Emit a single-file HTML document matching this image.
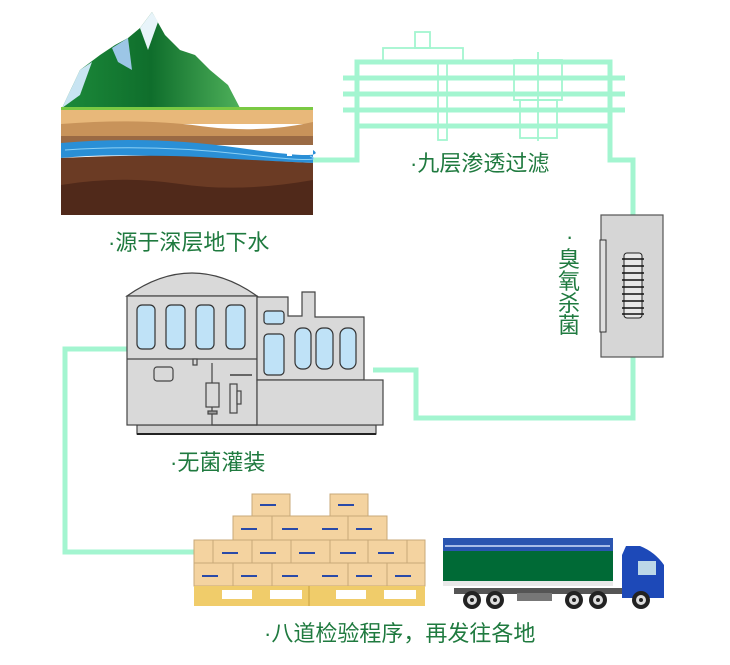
<!DOCTYPE html>
<html><head><meta charset="utf-8"><style>
html,body{margin:0;padding:0;background:#fff;}
svg{display:block}
text{font-family:"Liberation Sans","Noto Sans CJK SC",sans-serif;fill:#1f7a3f;font-size:22px}
</style></head><body>
<svg width="730" height="665" viewBox="0 0 730 665" xmlns="http://www.w3.org/2000/svg">
<defs>
<linearGradient id="mt" x1="0" y1="0" x2="1" y2="0"><stop offset="0" stop-color="#1c8a3a"/><stop offset="0.5" stop-color="#0f6e2c"/><stop offset="1" stop-color="#4eb05a"/></linearGradient>
</defs>
<g fill="none" stroke="#a3f5d0" stroke-width="5">
<polyline points="313,160 357,160 357,62 610,62 610,160 633,160 633,215"/>
<polyline points="633,357 633,418 416,418 416,370 373,370"/>
<polyline points="127,349 65,349 65,552 194,552"/>
<line x1="343" y1="78" x2="625" y2="78"/>
<line x1="343" y1="94" x2="625" y2="94"/>
<line x1="343" y1="110" x2="625" y2="110"/>
<line x1="357" y1="126" x2="610" y2="126"/>
</g>
<g fill="none" stroke="#a3f5d0" stroke-width="1.8">
<rect x="383" y="48" width="80" height="14"/>
<rect x="415" y="32" width="15" height="16"/>
<rect x="438" y="62" width="9" height="78"/>
<rect x="514" y="60" width="48" height="40"/>
<rect x="520" y="100" width="37" height="38"/>
<line x1="538" y1="52" x2="538" y2="141"/>
</g>
<!-- mountain -->
<polygon points="62,108 80,70 100,55 115,45 128,38 140,28 152,12 165,35 180,50 195,55 210,70 228,85 240,108" fill="url(#mt)"/>
<polygon points="62,108 80,70 92,62 80,95" fill="#c8e4f2"/>
<polygon points="140,28 152,12 158,22 148,50" fill="#e8f4fa"/>
<polygon points="112,48 128,38 132,70 118,62" fill="#9cc6e6"/>
<!-- ground -->
<rect x="61" y="107" width="252" height="3" fill="#7ac943"/>
<rect x="61" y="110" width="252" height="14" fill="#e8b87a"/>
<path d="M61,124 Q140,118 200,126 T313,122 L313,138 L61,138Z" fill="#c8935a"/>
<rect x="61" y="136" width="252" height="9" fill="#9a6a44"/>
<path d="M61,143 Q150,135 240,148 T313,150 L313,163 Q200,158 150,156 T61,158Z" fill="#2a8fd6"/>
<path d="M65,150 Q150,144 240,154 T310,156" stroke="#8cd0f4" fill="none" stroke-width="1"/>
<rect x="287" y="152" width="5" height="4" fill="#fff"/>
<path d="M61,158 Q150,154 200,157 T313,163 L313,215 L61,215Z" fill="#6b3b24"/>
<path d="M61,185 Q120,175 180,184 T313,180 L313,215 L61,215Z" fill="#50291a"/>
<text x="108" y="250">·源于深层地下水</text>
<text x="410" y="171">·九层渗透过滤</text>
<!-- sterilizer -->
<rect x="601" y="215" width="62" height="142" fill="#d6d6d6" stroke="#555" stroke-width="1.2"/>
<rect x="600" y="240" width="6" height="92" fill="#e0e0e0" stroke="#333" stroke-width="1"/>
<rect x="624" y="253" width="18" height="65" rx="3" fill="#e8e8e8" stroke="#222"/>
<g stroke="#111" stroke-width="1.5">
<line x1="622" y1="259" x2="644" y2="259"/><line x1="622" y1="266" x2="644" y2="266"/><line x1="622" y1="273" x2="644" y2="273"/><line x1="622" y1="280" x2="644" y2="280"/><line x1="622" y1="287" x2="644" y2="287"/><line x1="622" y1="294" x2="644" y2="294"/><line x1="622" y1="301" x2="644" y2="301"/><line x1="622" y1="308" x2="644" y2="308"/><line x1="622" y1="314" x2="644" y2="314"/></g>
<text x="566" y="244" font-size="12">·</text>
<text x="558" y="267">臭</text><text x="558" y="289">氧</text><text x="558" y="311">杀</text><text x="558" y="333">菌</text>
<!-- machine -->
<g stroke="#444" stroke-width="1.2">
<rect x="137" y="425" width="239" height="9" fill="#d0d0d0"/>
<line x1="137" y1="434" x2="376" y2="434" stroke="#222" stroke-width="2"/>
<path d="M127,296 Q192,250 257,296 Z" fill="#d9d9d9"/>
<rect x="127" y="296" width="130" height="129" fill="#d9d9d9"/>
<path d="M257,297 L288,297 L288,316 L302,316 L302,292 L315,292 L315,317 L364,317 L364,380 L257,380Z" fill="#d9d9d9"/>
<rect x="257" y="380" width="126" height="45" fill="#d9d9d9"/>
<line x1="127" y1="359" x2="257" y2="359"/>
<g fill="#bfe2f7" stroke="#333">
<rect x="137" y="305" width="18" height="44" rx="5"/><rect x="166" y="305" width="19" height="44" rx="5"/>
<rect x="196" y="305" width="18" height="44" rx="5"/><rect x="226" y="305" width="19" height="44" rx="5"/>
<rect x="264" y="311" width="20" height="13" rx="3"/><rect x="264" y="334" width="20" height="41" rx="4"/>
<rect x="295" y="328" width="16" height="41" rx="7"/><rect x="316" y="328" width="17" height="41" rx="7"/><rect x="340" y="328" width="16" height="41" rx="7"/>
</g>
<rect x="154" y="367" width="19" height="14" rx="3" fill="#d9d9d9"/>
<rect x="193" y="359" width="4" height="6" fill="#d9d9d9"/>
<polyline points="212,363 212,425 257,425" fill="none"/>
<rect x="206" y="383" width="13" height="24" fill="#d9d9d9"/>
<rect x="208" y="411" width="9" height="3" fill="#999"/>
<rect x="230" y="384" width="7" height="29" fill="#d9d9d9"/><rect x="237" y="391" width="4" height="13" fill="#d9d9d9"/>
<line x1="230" y1="375" x2="252" y2="375" stroke="#666" stroke-width="2"/>
</g>
<text x="170" y="470">·无菌灌装</text>
<!-- boxes -->
<g fill="#f4d3a0" stroke="#c8a878" stroke-width="1">
<rect x="252" y="494" width="38" height="22"/><rect x="330" y="494" width="38" height="22"/>
<rect x="233" y="516" width="39" height="24"/><rect x="272" y="516" width="76" height="24"/><rect x="348" y="516" width="39" height="24"/>
<rect x="194" y="540" width="19" height="23"/><rect x="213" y="540" width="39" height="23"/><rect x="252" y="540" width="39" height="23"/><rect x="291" y="540" width="39" height="23"/><rect x="330" y="540" width="38" height="23"/><rect x="368" y="540" width="39" height="23"/><rect x="407" y="540" width="18" height="23"/>
<rect x="194" y="563" width="39" height="23"/><rect x="233" y="563" width="39" height="23"/><rect x="272" y="563" width="76" height="23"/><rect x="348" y="563" width="39" height="23"/><rect x="387" y="563" width="38" height="23"/>
</g>
<g fill="#2a4aa8">
<rect x="260" y="504" width="16" height="2"/><rect x="338" y="504" width="16" height="2"/>
<rect x="241" y="528" width="16" height="2"/><rect x="282" y="528" width="16" height="2"/><rect x="322" y="528" width="16" height="2"/><rect x="356" y="528" width="16" height="2"/>
<rect x="222" y="552" width="16" height="2"/><rect x="260" y="552" width="16" height="2"/><rect x="299" y="552" width="16" height="2"/><rect x="340" y="552" width="16" height="2"/><rect x="378" y="552" width="16" height="2"/>
<rect x="202" y="575" width="16" height="2"/><rect x="241" y="575" width="16" height="2"/><rect x="282" y="575" width="16" height="2"/><rect x="322" y="575" width="16" height="2"/><rect x="356" y="575" width="16" height="2"/><rect x="395" y="575" width="16" height="2"/>
</g>
<rect x="194" y="586" width="231" height="20" fill="#f0cc6a"/>
<line x1="309" y1="586" x2="309" y2="606" stroke="#c9a040"/>
<g fill="#fff"><rect x="222" y="590" width="30" height="9"/><rect x="270" y="590" width="32" height="9"/><rect x="336" y="590" width="30" height="9"/><rect x="384" y="590" width="32" height="9"/></g>
<!-- truck -->
<rect x="443" y="538" width="170" height="47" fill="#2a55b0"/>
<rect x="445" y="545" width="165" height="2" fill="#a8bde8"/>
<rect x="443" y="551" width="170" height="30" fill="#006a36"/>
<rect x="443" y="581" width="170" height="5" fill="#e8e8e8"/>
<rect x="454" y="588" width="170" height="6" fill="#555"/>
<rect x="517" y="593" width="35" height="8" fill="#777"/>
<path d="M622,555 L622,598 L664,598 L664,565 Q655,552 640,546 L626,546Z" fill="#1d49b8"/>
<rect x="638" y="561" width="18" height="14" fill="#bcd8e8"/>
<g fill="#222"><circle cx="472" cy="600" r="9"/><circle cx="495" cy="600" r="9"/><circle cx="574" cy="600" r="9"/><circle cx="598" cy="600" r="9"/><circle cx="641" cy="600" r="9"/></g>
<g fill="#ddd"><circle cx="472" cy="600" r="5"/><circle cx="495" cy="600" r="5"/><circle cx="574" cy="600" r="5"/><circle cx="598" cy="600" r="5"/><circle cx="641" cy="600" r="5"/></g>
<g fill="#222"><circle cx="472" cy="600" r="2"/><circle cx="495" cy="600" r="2"/><circle cx="574" cy="600" r="2"/><circle cx="598" cy="600" r="2"/><circle cx="641" cy="600" r="2"/></g>
<text x="264" y="641">·八道检验程序，再发往各地</text>
</svg>
</body></html>
